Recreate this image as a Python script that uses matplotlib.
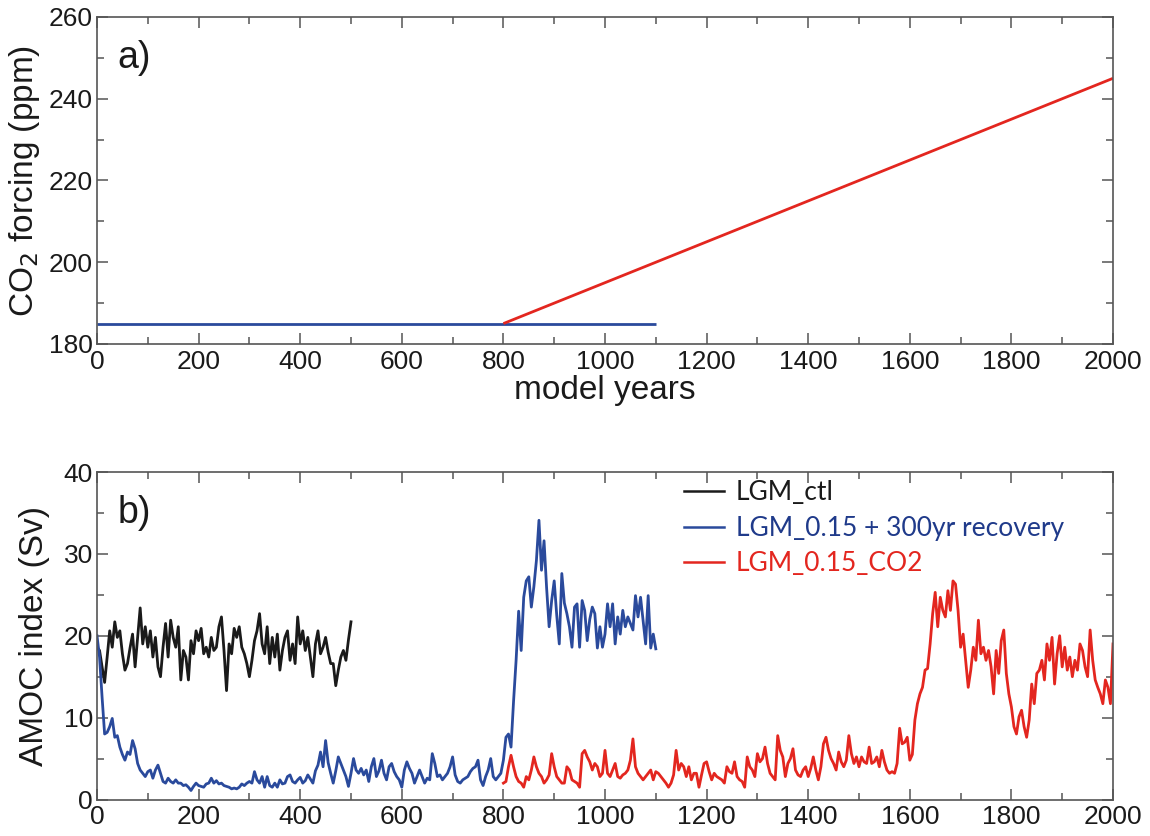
import numpy as np
import matplotlib
matplotlib.use("Agg")
import matplotlib.pyplot as plt
from matplotlib.ticker import MultipleLocator

# ---------------- data ----------------
# panel a: CO2 forcing (ppm)
co2_blue_years = [0, 1100]
co2_blue_ppm = [185, 185]
co2_red_years = [800, 2000]
co2_red_ppm = [185, 245]

# panel b: AMOC index (Sv), sampled every 5 model years
ctl_start, ctl_end = 0, 500
amoc_ctl = [
    18.6, 18.2, 16.2, 14.3, 17.4, 20.6, 18.6, 21.7, 19.8, 20.6,
    17.8, 15.8, 16.6, 18.5, 20.2, 16.2, 19.8, 23.4, 19.0, 21.1,
    18.6, 20.6, 17.4, 19.8, 16.2, 15.0, 18.6, 21.5, 17.4, 21.9,
    19.8, 18.6, 21.1, 14.6, 18.2, 17.4, 14.6, 19.4, 17.8, 20.6,
    19.4, 20.9, 17.8, 18.6, 17.4, 19.8, 18.2, 18.6, 21.1, 22.3,
    18.2, 13.3, 19.0, 17.8, 20.9, 19.8, 21.1, 18.6, 17.8, 16.6,
    15.0, 17.0, 19.4, 20.6, 22.7, 19.0, 17.8, 21.1, 16.6, 19.8,
    17.4, 20.2, 15.8, 18.2, 19.8, 20.6, 17.0, 19.0, 16.6, 22.3,
    19.0, 20.6, 18.2, 19.8, 17.4, 15.0, 19.0, 20.6, 17.8, 18.6,
    19.8, 18.0, 16.6, 16.6, 13.9, 15.8, 17.4, 18.2, 17.0, 19.5,
    21.7,
]

rec_start, rec_end = 0, 1100
amoc_recovery = [
    20.0, 17.4, 12.5, 8.0, 8.2, 8.9, 9.9, 7.6, 7.8, 6.4,
    5.5, 4.8, 5.8, 5.5, 7.2, 6.2, 4.4, 3.6, 3.2, 2.8,
    3.4, 3.6, 2.6, 3.6, 4.2, 3.2, 2.2, 2.0, 2.6, 2.2,
    2.0, 2.4, 2.0, 2.0, 1.7, 1.8, 1.5, 1.1, 1.6, 2.0,
    1.7, 1.6, 1.5, 1.9, 2.0, 2.6, 2.0, 2.3, 1.9, 2.0,
    1.7, 1.6, 1.5, 1.3, 1.4, 1.3, 1.5, 1.9, 1.7, 2.0,
    2.2, 2.0, 3.4, 2.4, 2.0, 2.8, 1.5, 2.8, 1.7, 1.5,
    2.0, 1.5, 2.4, 1.9, 2.0, 2.8, 3.0, 2.2, 2.0, 2.4,
    2.7, 2.0, 2.3, 3.0, 2.5, 2.0, 3.5, 4.2, 5.8, 4.0,
    7.2, 4.5, 3.2, 2.0, 3.5, 5.2, 4.4, 3.6, 2.8, 1.6,
    3.2, 5.0, 3.6, 3.2, 3.8,
    3.0, 3.6, 2.2, 4.0, 5.0, 2.8, 3.5, 4.8, 3.2, 2.4,
    4.0, 4.4, 3.4, 2.8, 2.4, 1.5, 3.6, 4.6, 3.8, 3.2,
    2.0, 2.8, 3.6, 2.8, 2.0, 2.6, 2.4, 5.6, 4.4, 2.8,
    3.0, 2.4, 2.8, 3.2, 4.0, 5.2, 3.0, 2.2, 2.0, 2.4,
    2.6, 2.8, 3.4, 3.8, 4.0, 4.8, 2.4, 1.7, 2.8, 3.6,
    5.0, 2.8, 2.4, 2.8, 3.2, 4.8,
    7.6, 8.0, 6.4, 12.0, 17.0, 23.0, 18.2, 24.7, 26.7, 27.2,
    23.5, 26.0, 29.2, 34.1, 28.0, 31.6, 25.9, 21.1, 24.3, 26.7,
    22.5, 19.0, 27.6, 24.0, 22.7, 21.1, 18.6, 23.5, 23.9, 18.6,
    24.3, 23.1, 19.4, 22.0, 23.5, 22.7, 18.5, 21.1, 18.6, 20.2,
    23.9, 21.1, 23.9, 19.0, 22.3, 20.2, 23.1, 21.1, 22.3, 21.5,
    20.7, 24.9, 22.3, 24.7, 21.9, 19.0, 24.9, 18.5, 20.2, 18.4,
]

co2_start, co2_end = 800, 2000
amoc_co2 = [
    2.0, 2.2, 4.0, 5.4, 4.0, 2.8, 2.2, 2.0, 1.5, 2.8,
    2.4, 3.6, 5.2, 4.0, 3.2, 2.8, 2.0, 2.4, 3.0, 5.6,
    4.0, 2.8, 2.4, 2.0, 2.0, 4.0, 3.6, 2.4, 2.2, 2.0,
    1.5, 5.6, 6.0, 5.2, 4.6, 3.6, 4.4, 4.0, 2.8, 3.2,
    6.0, 3.2, 2.8, 3.6, 4.4, 2.8, 2.6, 3.0, 3.2, 3.6,
    4.8, 7.4, 4.0, 3.2, 2.8, 2.4, 2.8, 3.2, 3.6, 2.4,
    3.4, 3.2, 2.8, 2.4, 2.0, 1.5, 2.0, 3.0, 6.0, 3.6,
    4.4, 4.0, 2.8, 4.0, 2.4, 3.2, 3.2, 1.5, 3.0, 4.4,
    4.6, 3.4, 2.4, 3.2, 2.8, 2.6, 2.4, 2.0, 4.0, 3.4,
    3.2, 4.6, 2.8, 2.4, 2.2, 1.5, 5.2, 4.0, 3.6, 2.8,
    5.6, 4.6, 5.0, 6.4, 4.4, 3.2, 2.8, 2.4, 7.8, 6.0,
    5.2, 2.8, 4.4, 5.0, 6.2, 3.6, 3.0, 2.8, 3.6, 4.0,
    2.8, 3.8, 5.2, 3.6, 2.4, 4.0, 6.8, 7.6, 6.0, 5.0,
    4.4, 3.6, 5.8, 4.6, 4.0, 4.8, 7.8, 5.6, 4.4, 5.2,
    4.0, 5.2, 4.6, 4.4, 6.4, 4.4, 4.6, 5.2, 4.0, 6.0,
    4.6, 3.6, 3.2, 3.4, 3.2, 4.4, 8.7, 6.8, 7.0, 7.6,
    4.8, 5.5, 9.7, 11.7, 12.9, 13.7, 15.8, 16.0, 19.0, 22.7,
    25.3, 21.1, 24.7, 23.1, 22.3, 25.5, 23.1, 26.7, 26.3, 23.1,
    18.6, 20.2, 17.0, 13.7, 15.8, 18.6, 17.0, 21.9, 17.8, 18.6,
    17.0, 18.2, 16.2, 12.9, 18.2, 15.4, 19.4, 20.7, 15.4, 12.9,
    11.3, 8.9, 8.0, 10.1, 10.9, 8.9, 7.6, 9.7, 14.1, 11.7,
    15.4, 15.8, 17.0, 14.6, 19.0, 17.0, 19.8, 14.1, 17.8, 20.0,
    16.2, 18.6, 15.8, 17.4, 15.0, 17.0, 15.8, 19.0, 18.2, 16.2,
    15.0, 20.7, 17.0, 14.6, 13.7, 12.9, 11.7, 14.6, 13.7, 11.7,
    19.0,
]

labels = ["LGM_ctl", "LGM_0.15 + 300yr recovery", "LGM_0.15_CO2"]

# ---------------- style ----------------
BLACK = "#1a1a1a"
BLUE = "#2a4a9c"
RED = "#e3261f"
LEGBLUE = "#1f3a8a"
SPINE = "#555555"
TICKFONT = "Liberation Sans"
LABFONT = ["Liberation Sans", "DejaVu Sans"]
LEGFONT = ["Lato", "DejaVu Sans"]

fig = plt.figure(figsize=(11.5, 8.36), dpi=100)
fig.patch.set_facecolor("white")

W, H = 1150, 836
x0, x1 = 97, 1113
axa = fig.add_axes([x0 / W, 1 - 344 / H, (x1 - x0) / W, 327 / H])
axb = fig.add_axes([x0 / W, 1 - 799.5 / H, (x1 - x0) / W, 327.5 / H])


def style(ax):
    for s in ax.spines.values():
        s.set_color(SPINE)
        s.set_linewidth(1.2)
    ax.tick_params(which="both", direction="in", top=True, right=True,
                   colors=SPINE, labelcolor="#1a1a1a", labelsize=19, width=1.1)
    ax.tick_params(which="major", length=8)
    ax.tick_params(which="minor", length=5)
    ax.tick_params(axis="x", pad=4)
    ax.tick_params(axis="y", pad=3)
    for lab in ax.get_xticklabels() + ax.get_yticklabels():
        lab.set_fontfamily(TICKFONT)


# panel a
axa.plot(co2_blue_years, co2_blue_ppm, color=BLUE, lw=2.0, solid_capstyle="butt")
axa.plot(co2_red_years, co2_red_ppm, color=RED, lw=2.0, solid_capstyle="butt")
axa.set_xlim(0, 2000)
axa.set_ylim(180, 260)
axa.xaxis.set_major_locator(MultipleLocator(200))
axa.xaxis.set_minor_locator(MultipleLocator(100))
axa.yaxis.set_major_locator(MultipleLocator(20))
axa.yaxis.set_minor_locator(MultipleLocator(10))
style(axa)
axa.set_xlabel("model years", fontsize=24, family=LABFONT, labelpad=1, color="#1a1a1a")
axa.set_ylabel("CO$_2$ forcing (ppm)", fontsize=24, family=LABFONT, labelpad=5, color="#1a1a1a")
axa.text(0.02, 0.93, "a)", transform=axa.transAxes, fontsize=27, family=LABFONT,
         va="top", ha="left", color="#1a1a1a")

# panel b
yr_ctl = np.linspace(ctl_start, ctl_end, len(amoc_ctl))
yr_rec = np.linspace(rec_start, rec_end, len(amoc_recovery))
yr_co2 = np.linspace(co2_start, co2_end, len(amoc_co2))
axb.plot(yr_ctl, amoc_ctl, color=BLACK, lw=2.0, label=labels[0])
axb.plot(yr_rec, amoc_recovery, color=BLUE, lw=2.0, label=labels[1])
axb.plot(yr_co2, amoc_co2, color=RED, lw=2.0, label=labels[2])
axb.set_xlim(0, 2000)
axb.set_ylim(0, 40)
axb.xaxis.set_major_locator(MultipleLocator(200))
axb.xaxis.set_minor_locator(MultipleLocator(100))
axb.yaxis.set_major_locator(MultipleLocator(10))
axb.yaxis.set_minor_locator(MultipleLocator(5))
style(axb)
axb.set_ylabel("AMOC index (Sv)", fontsize=24, family=LABFONT, labelpad=10, color="#1a1a1a")
axb.text(0.02, 0.93, "b)", transform=axb.transAxes, fontsize=27, family=LABFONT,
         va="top", ha="left", color="#1a1a1a")

leg = axb.legend(loc="upper left", bbox_to_anchor=(0.578, 0.975), frameon=False,
                 borderpad=0, borderaxespad=0, handlelength=1.5, handletextpad=0.45,
                 labelspacing=0.4, prop={"family": LEGFONT, "size": 19})
for txt, c in zip(leg.get_texts(), [BLACK, LEGBLUE, RED]):
    txt.set_color(c)
for h in leg.get_lines():
    h.set_linewidth(1.8)

fig.savefig("out.png", dpi=100, facecolor="white")
